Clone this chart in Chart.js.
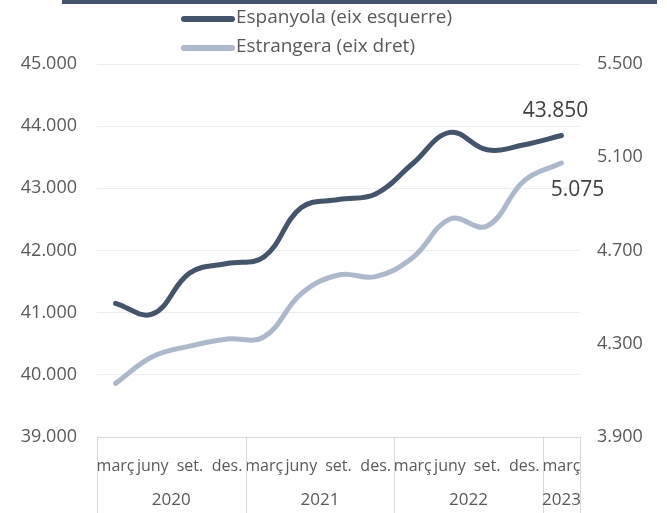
<!DOCTYPE html>
<html>
<head>
<meta charset="utf-8">
<script src="https://cdn.jsdelivr.net/npm/chart.js@4.4.0/dist/chart.umd.min.js"></script>
<style>
  body { margin: 0; background: #fff; }
  #wrap { width: 667px; height: 513px; }
</style>
</head>
<body>
<div id="wrap"><canvas id="lineChart" width="667" height="513"></canvas></div>
<script>
// trimestres (eix X)
const quarters = ['març', 'juny', 'set.', 'des.', 'març', 'juny', 'set.', 'des.', 'març', 'juny', 'set.', 'des.', 'març'];
const years = ['2020', '2021', '2022', '2023'];
const yearStart = [0, 4, 8, 12]; // index del primer trimestre de cada any

// afiliats
const espanyola = [41150, 40980, 41640, 41790, 41900, 42690, 42820, 42910, 43400, 43900, 43620, 43700, 43850];
const estrangera = [4130, 4245, 4290, 4320, 4330, 4515, 4595, 4588, 4670, 4835, 4805, 5000, 5075];

const leftTicks = [39000, 45000, 1000];
const rightTicks = [3900, 5500, 400];

const fontFam = '"Open Sans", "Noto Sans", sans-serif';
const grey = '#595959';

function fmt(v) {
    return String(v).replace(/\B(?=(\d{3})+(?!\d))/g, '.');
}

// llegenda, barra superior, anys i etiquetes finals
const extrasPlugin = {
    id: 'extras',
    afterDraw: function (chart) {
        const ctx = chart.ctx;
        const area = chart.chartArea;
        ctx.save();

        // barra fosca de dalt
        ctx.fillStyle = '#44546a';
        ctx.fillRect(62, 0, 595, 4);

        // llegenda
        ctx.font = '19px ' + fontFam;
        ctx.textBaseline = 'middle';
        ctx.textAlign = 'left';
        chart.data.datasets.forEach(function (ds, i) {
            const y = 19 + i * 29;
            ctx.strokeStyle = ds.borderColor;
            ctx.lineWidth = 6;
            ctx.lineCap = 'round';
            ctx.beginPath();
            ctx.moveTo(184, y);
            ctx.lineTo(232, y);
            ctx.stroke();
            ctx.fillStyle = grey;
            ctx.fillText(ds.label, 236, y - 1);
        });

        // separadors i anys
        const x = chart.scales.x;
        const half = (x.getPixelForValue(1) - x.getPixelForValue(0)) / 2;
        ctx.strokeStyle = '#d9d9d9';
        ctx.lineWidth = 1;
        const edges = yearStart.map(s => x.getPixelForValue(s) - half);
        edges.push(area.right);
        edges.forEach(function (px) {
            ctx.beginPath();
            ctx.moveTo(Math.round(px) + 0.5, area.bottom);
            ctx.lineTo(Math.round(px) + 0.5, chart.height);
            ctx.stroke();
        });
        ctx.font = '17px ' + fontFam;
        ctx.fillStyle = grey;
        ctx.textAlign = 'center';
        years.forEach(function (yr, i) {
            ctx.fillText(yr, (edges[i] + edges[i + 1]) / 2, 500);
        });

        // valors finals
        ctx.font = '21px ' + fontFam;
        ctx.fillStyle = '#404040';
        const p0 = chart.getDatasetMeta(0).data[espanyola.length - 1];
        ctx.fillText(fmt(espanyola[espanyola.length - 1]), p0.x - 6, p0.y - 24);
        const p1 = chart.getDatasetMeta(1).data[estrangera.length - 1];
        ctx.fillText(fmt(estrangera[estrangera.length - 1]), p1.x + 16, p1.y + 27);

        ctx.restore();
    }
};

const ctx = document.getElementById('lineChart').getContext('2d');
const myLineChart = new Chart(ctx, {
    type: 'line',
    data: {
        labels: quarters,
        datasets: [{
            label: 'Espanyola (eix esquerre)',
            data: espanyola,
            yAxisID: 'y',
            borderColor: '#44546a',
            borderWidth: 5,
            borderCapStyle: 'round',
            tension: 0.4,
            pointRadius: 0
        }, {
            label: 'Estrangera (eix dret)',
            data: estrangera,
            yAxisID: 'y1',
            borderColor: '#adb9ca',
            borderWidth: 5,
            borderCapStyle: 'round',
            tension: 0.4,
            pointRadius: 0
        }]
    },
    options: {
        responsive: false,
        animation: false,
        layout: { padding: { top: 64 } },
        plugins: {
            legend: { display: false },
            tooltip: { enabled: false }
        },
        scales: {
            x: {
                offset: true,
                grid: { display: false },
                border: { color: '#d9d9d9' },
                ticks: {
                    color: grey,
                    font: { family: fontFam, size: 16 },
                    maxRotation: 0,
                    autoSkip: false,
                    padding: 12
                },
                afterFit: function (scale) { scale.height = 76; }
            },
            y: {
                position: 'left',
                min: leftTicks[0],
                max: leftTicks[1],
                border: { display: false },
                grid: { color: '#ededed', drawTicks: false },
                ticks: {
                    stepSize: leftTicks[2],
                    color: grey,
                    font: { family: fontFam, size: 18 },
                    padding: 20,
                    callback: function (v) { return fmt(v); }
                },
                afterFit: function (scale) { scale.width = 97; }
            },
            y1: {
                position: 'right',
                min: rightTicks[0],
                max: rightTicks[1],
                border: { display: false },
                grid: { display: false, drawTicks: false },
                ticks: {
                    stepSize: rightTicks[2],
                    color: grey,
                    font: { family: fontFam, size: 18 },
                    padding: 17,
                    callback: function (v) { return fmt(v); }
                },
                afterFit: function (scale) { scale.width = 87; }
            }
        }
    },
    plugins: [extrasPlugin]
});
</script>
</body>
</html>
